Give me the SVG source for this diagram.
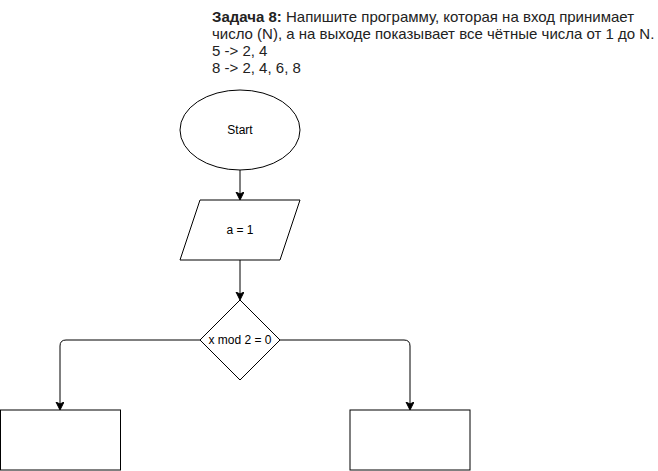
<svg xmlns="http://www.w3.org/2000/svg" width="658" height="471" viewBox="0 0 658 471">
<defs>
<style>
.shape{fill:#fff;stroke:#000;stroke-width:1}
.lbl{font-family:"Liberation Sans",Arial,sans-serif;font-size:12px;fill:#000;text-anchor:middle}
.title{font-family:"Liberation Sans",Arial,sans-serif;font-size:15px;fill:#222}
.edge{fill:none;stroke:#000;stroke-width:1}
</style>
<marker id="arr" markerWidth="10" markerHeight="10" refX="7" refY="4" orient="auto" markerUnits="userSpaceOnUse">
<path d="M0,0 L8,4 L0,8 L2,4 Z" fill="#000" stroke="#000" stroke-width="1"/>
</marker>
</defs>
<rect width="658" height="471" fill="#fff"/>
<g id="title">
<text class="title" x="212" y="22"><tspan font-weight="bold">Задача 8:</tspan> Напишите программу, которая на вход принимает</text>
<text class="title" x="212" y="39">число (N), а на выходе показывает все чётные числа от 1 до N.</text>
<text class="title" x="212" y="56">5 -&gt; 2, 4</text>
<text class="title" x="212" y="73">8 -&gt; 2, 4, 6, 8</text>
</g>
<g id="connectors">
<path class="edge" d="M240,170 L240,199" marker-end="url(#arr)"/>
<path class="edge" d="M240,260 L240,299" marker-end="url(#arr)"/>
<path class="edge" d="M200,340 L66,340 Q60,340 60,346 L60,409" marker-end="url(#arr)"/>
<path class="edge" d="M280,340 L404,340 Q410,340 410,346 L410,409" marker-end="url(#arr)"/>
</g>
<g id="start">
<ellipse class="shape" cx="240" cy="130" rx="60" ry="40"/>
<text class="lbl" x="240" y="134">Start</text>
</g>
<g id="assign">
<polygon class="shape" points="200,200 300,200 280,260 180,260"/>
<text class="lbl" x="240" y="234">a = 1</text>
</g>
<g id="decision">
<polygon class="shape" points="240,300 280,340 240,380 200,340"/>
<text class="lbl" x="240" y="344">x mod 2 = 0</text>
</g>
<g id="left-box">
<rect class="shape" x="0.5" y="410" width="120" height="60"/>
</g>
<g id="right-box">
<rect class="shape" x="350" y="410" width="120" height="60"/>
</g>
</svg>
